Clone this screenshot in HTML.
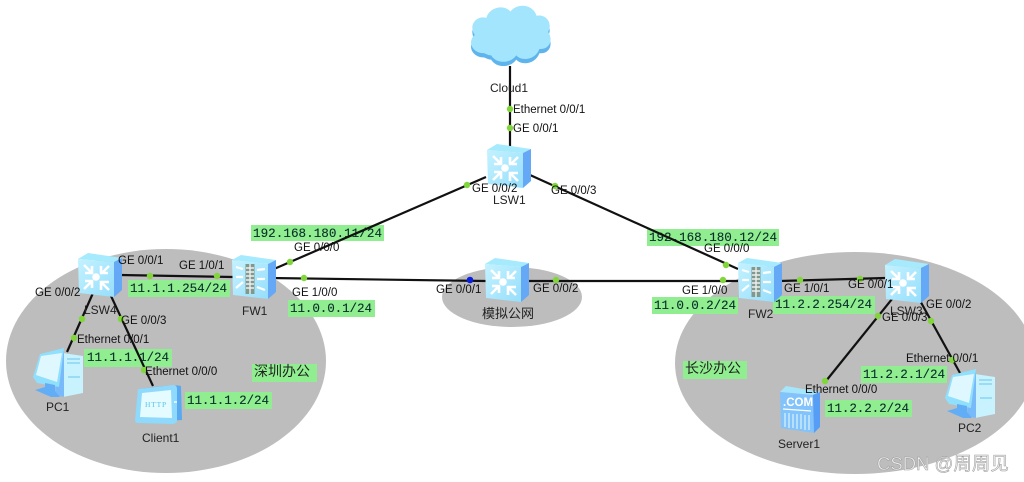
<!DOCTYPE html>
<html><head><meta charset="utf-8">
<style>
html,body{margin:0;padding:0;background:#fff;width:1024px;height:482px;overflow:hidden}
svg{display:block}
.l{font-family:"Liberation Sans",sans-serif;font-size:11.5px;fill:#111}
.n{font-family:"Liberation Sans","Noto Sans CJK SC",sans-serif;font-size:12px;fill:#222}
.g{font-family:"Liberation Mono",monospace;font-size:12.6px;fill:#0a2e2a;stroke:#0a2e2a;stroke-width:.12}
.z{font-family:"Liberation Sans","Noto Sans CJK SC",sans-serif;font-size:14px;fill:#222}
.w{font-family:"Liberation Sans","Noto Sans CJK SC",sans-serif;font-size:18.5px;fill:#eee;stroke:#999;stroke-width:.5}
.lk{stroke:#111;stroke-width:2.2;fill:none}
</style></head><body>
<svg width="1024" height="482" viewBox="0 0 1024 482" xmlns="http://www.w3.org/2000/svg">
<defs>
<linearGradient id="f" x1="0" y1="0" x2="1" y2="1"><stop offset="0" stop-color="#c4f2ff"/><stop offset="1" stop-color="#96defc"/></linearGradient>
<g id="sw">
<path d="M0 6 L10 0 L44 5 L36 9Z" fill="#a5eafd"/>
<path d="M0 6 L36 9 L36 44 L1 40Z" fill="url(#f)"/>
<path d="M36 9 L44 5 L44 37 L36 44Z" fill="#64a8f6"/>
<circle cx="18" cy="24" r="3.8" fill="#fff"/>
<path d="M6 12 L13 19 M14 13 V20 H7 M31 13 L24 20 M23 13 V20 H30 M6 36 L13 29 M7 28 H14 V35 M31 37 L24 30 M23 37 V29 H31" stroke="#fff" stroke-width="2.6" fill="none"/>
</g>
<g id="fw">
<path d="M0 5 L9 0 L44 5 L36 9Z" fill="#a5eafd"/>
<path d="M0 5 L36 9 L36 44 L1 40Z" fill="url(#f)"/>
<path d="M36 9 L44 5 L44 37 L36 44Z" fill="#64a8f6"/>
<rect x="13.500" y="9" width="9" height="30" fill="#7e9a8e"/>
<path d="M14 13 H22 M14 17 H22 M14 21 H22 M14 25 H22 M14 29 H22 M14 33 H22 M18 9 V39" stroke="#eee" stroke-width="1.400"/>
<path d="M4 12 L11 14 M4 22 L11 22 M4 33 L11 27 M25 15 L33 14 M25 24 L33 24 M25 32 L33 35" stroke="#fff" stroke-width="2.200"/>
</g>
<g id="pc">
<path d="M32 6 L52 9 L52 46 L32 50Z" fill="#c8f2fe"/>
<path d="M26 12 L33 4 L33 50 L24 48Z" fill="#77b9f9"/>
<path d="M36 12 H49 M36 16 H49 M37 30 H49" stroke="#6cc4ee"/>
<path d="M2 30 L9 7 L33 1 L28 40 L6 36Z" fill="#90dffc"/>
<path d="M5 28 L10 9 L31 6 L26 35Z" fill="#dff8ff"/>
<path d="M4 43 L14 40 L14 36 L24 38 L24 44 L29 50 L20 50Z" fill="#62aef6"/>
</g>
<g id="cl">
<path d="M4 5 Q48 -1 46 3 L47 36 L2 39Z" fill="#58a8f2"/>
<path d="M3 5 L38 1 Q42 1 42 5 L42 37 Q42 39 38 40 L3 39 Q0 39 0 36 Z" fill="#8ed9fc"/>
<path d="M7 9 L36 6 L37 34 L5 33Z" fill="#e4fbff"/>
<text x="10" y="23" font-family="Liberation Serif,serif" font-size="7.500" letter-spacing=".8" fill="#58c5ee">HTTP</text>
<path d="M39 18 h3" stroke="#d5f5ff" stroke-width="2"/>
</g>
<g id="sv">
<path d="M0 6 L6 0 L40 6 L32 9Z" fill="#a6e6fd"/>
<path d="M0 6 L33 9 L34 47 L1 42Z" fill="#83c3fb"/>
<path d="M33 9 L40 6 L40 41 L34 47Z" fill="#559df5"/>
<text x="3" y="20" font-family="Liberation Sans,sans-serif" font-weight="bold" font-size="11.500" fill="#fff">.COM</text>
<path d="M3 23 L31 25" stroke="#fff" stroke-width="1.200"/>
<path d="M5 27 V41 M9 27 V42 M13 28 V42 M17 28 V43 M21 28 V43 M25 29 V44 M29 29 V44" stroke="#d8f3ff" stroke-width="1.200"/>
</g>
<path id="cloud" d="M483 52 C470 52 465 41 473 35 C466 26 475 16 485 19 C488 9 503 6 510 13 C518 4 534 7 537 17 C547 15 554 24 549 32 C555 40 550 49 540 48 C536 58 522 60 516 54 C510 62 495 62 490 54 C488 54 485 53 483 52Z"/>
</defs>
<rect width="1024" height="482" fill="#fff"/>
<ellipse cx="166" cy="361" rx="160" ry="112" fill="#bdbdbd"/>
<ellipse cx="855" cy="363" rx="180" ry="111" fill="#bdbdbd"/>
<ellipse cx="512" cy="297" rx="70" ry="30" fill="#bdbdbd"/>

<!-- green labels -->
<g fill="#90ee90">
<rect x="251" y="225" width="133" height="16"/>
<rect x="128" y="280" width="102" height="17"/>
<rect x="288" y="300" width="87" height="17"/>
<rect x="84" y="349" width="88" height="18"/>
<rect x="185" y="392" width="87" height="17"/>
<rect x="252" y="364" width="65" height="18"/>
<rect x="647" y="229" width="132" height="17"/>
<rect x="652" y="297" width="86" height="17"/>
<rect x="773" y="296" width="102" height="18"/>
<rect x="861" y="366" width="86" height="17"/>
<rect x="825" y="400" width="87" height="17"/>
<rect x="683" y="361" width="64" height="18"/>
</g>
<g class="g">
<text x="253" y="237" textLength="129">192.168.180.11/24</text>
<text x="130" y="292" textLength="97">11.1.1.254/24</text>
<text x="290" y="312" textLength="82">11.0.0.1/24</text>
<text x="87" y="361" textLength="82">11.1.1.1/24</text>
<text x="187" y="404" textLength="82">11.1.1.2/24</text>
<text x="649" y="241" textLength="128">192.168.180.12/24</text>
<text x="654" y="309" textLength="82">11.0.0.2/24</text>
<text x="775" y="308" textLength="97">11.2.2.254/24</text>
<text x="863" y="378" textLength="82">11.2.2.1/24</text>
<text x="827" y="412" textLength="82">11.2.2.2/24</text>
</g>
<text class="z" x="254" y="376">深圳办公</text>
<text class="z" x="685" y="373">长沙办公</text>

<!-- links -->
<path class="lk" d="M510 66 V150"/>
<path class="lk" d="M486 177 L274 269"/>
<path class="lk" d="M530 175 L738 269"/>
<path class="lk" d="M270 278 L486 281"/>
<path class="lk" d="M528 281 H738"/>
<path class="lk" d="M120 275 L233 277"/>
<path class="lk" d="M780 281 L885 278"/>
<path class="lk" d="M93 293 L67 352"/>
<path class="lk" d="M111 296 L153 386"/>
<path class="lk" d="M896 294 L826 381"/>
<path class="lk" d="M918 297 L960 373"/>

<!-- cloud -->
<g transform="translate(468 4) scale(.965 1.07) translate(-466 -6)">
<use href="#cloud" fill="#5fb4ee" transform="translate(0 4)"/>
<use href="#cloud" fill="#a2e5fc"/>
</g>

<!-- devices -->
<use href="#sw" x="487" y="144"/>
<use href="#sw" x="485" y="258"/>
<use href="#sw" x="78" y="253"/>
<use href="#sw" x="885" y="259"/>
<use href="#fw" x="232" y="255"/>
<use href="#fw" x="738" y="258"/>
<use href="#pc" x="31" y="347"/>
<use href="#pc" x="943" y="368"/>
<use href="#cl" x="135" y="384"/>
<use href="#sv" x="780" y="386"/>

<!-- dots -->
<g fill="#80d63a">
<circle cx="510" cy="109" r="3.200"/><circle cx="510" cy="128" r="3.200"/>
<circle cx="467" cy="185" r="3.200"/><circle cx="555" cy="186" r="3.200"/>
<circle cx="290" cy="262" r="3.200"/><circle cx="304" cy="278" r="3.200"/>
<circle cx="726" cy="265" r="3.200"/><circle cx="723" cy="280" r="3.200"/>
<circle cx="556" cy="280" r="3.200"/>
<circle cx="150" cy="276" r="3.200"/><circle cx="217" cy="276" r="3.200"/>
<circle cx="800" cy="280" r="3.200"/><circle cx="860" cy="279" r="3.200"/>
<circle cx="82" cy="319" r="3.200"/><circle cx="74" cy="338" r="3.200"/>
<circle cx="121" cy="319" r="3.200"/><circle cx="144" cy="370" r="3.200"/>
<circle cx="878" cy="316" r="3.200"/><circle cx="825" cy="381" r="3.200"/>
<circle cx="931" cy="321" r="3.200"/><circle cx="952" cy="360" r="3.200"/>
</g>
<circle cx="470" cy="280" r="3.300" fill="#0a1ee0"/>

<!-- port labels -->
<g class="l">
<text x="513" y="113">Ethernet 0/0/1</text>
<text x="513" y="132">GE 0/0/1</text>
<text x="472" y="192">GE 0/0/2</text>
<text x="551" y="194">GE 0/0/3</text>
<text x="294" y="251">GE 0/0/0</text>
<text x="704" y="252">GE 0/0/0</text>
<text x="118" y="264">GE 0/0/1</text>
<text x="179" y="269">GE 1/0/1</text>
<text x="35" y="296">GE 0/0/2</text>
<text x="121" y="324">GE 0/0/3</text>
<text x="77" y="343">Ethernet 0/0/1</text>
<text x="145" y="375">Ethernet 0/0/0</text>
<text x="292" y="296">GE 1/0/0</text>
<text x="436" y="293">GE 0/0/1</text>
<text x="533" y="292">GE 0/0/2</text>
<text x="682" y="294">GE 1/0/0</text>
<text x="784" y="292">GE 1/0/1</text>
<text x="848" y="288">GE 0/0/1</text>
<text x="882" y="321">GE 0/0/3</text>
<text x="926" y="308">GE 0/0/2</text>
<text x="906" y="362">Ethernet 0/0/1</text>
<text x="805" y="393">Ethernet 0/0/0</text>
</g>

<!-- names -->
<g class="n">
<text x="490" y="92">Cloud1</text>
<text x="493" y="204">LSW1</text>
<text x="84" y="314">LSW4</text>
<text x="242" y="315">FW1</text>
<text x="748" y="318">FW2</text>
<text x="890" y="315">LSW3</text>
<text x="46" y="411">PC1</text>
<text x="142" y="442">Client1</text>
<text x="778" y="448">Server1</text>
<text x="958" y="432">PC2</text>
<text x="482" y="318" font-size="13">模拟公网</text>
</g>
<text class="w" x="877" y="470">CSDN @周周见</text>
</svg>
</body></html>
